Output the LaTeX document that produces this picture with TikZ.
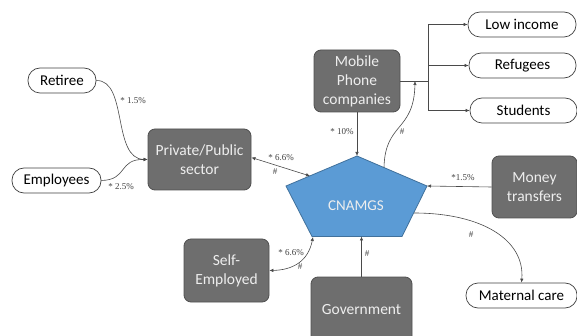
\documentclass[tikz,border=0pt]{standalone}
\usepackage{fontspec}
\setmainfont{Carlito}
\newfontfamily\labelfont{Liberation Serif}
\usetikzlibrary{arrows.meta}
\definecolor{boxfill}{HTML}{6E6E6E}
\definecolor{boxline}{HTML}{505050}
\definecolor{penta}{HTML}{5B9BD5}
\definecolor{pentaline}{HTML}{41719C}
\definecolor{boxtext}{HTML}{EEEEEE}
\definecolor{wire}{HTML}{4A4A4A}
\begin{document}
\begin{tikzpicture}[x=1pt,y=-1pt,
  darkbox/.style={draw=boxline, fill=boxfill, rounded corners=7pt, line width=0.8pt,
    text=boxtext, font=\fontsize{15.5}{19}\selectfont, align=center, inner sep=0pt},
  pill/.style={draw=black!75, fill=white, rounded corners=12pt, line width=0.7pt,
    font=\fontsize{15}{17}\selectfont, inner sep=0pt, minimum height=25pt},
  conn/.style={draw=wire, line width=0.6pt},
  tip/.style={-{Latex[length=4pt,width=3.5pt]}},
  both/.style={{Latex[length=4pt,width=3.5pt]}-{Latex[length=4pt,width=3.5pt]}},
  lbl/.style={font=\labelfont\fontsize{9}{10}\selectfont, text=black!75, inner sep=0pt}
]
\useasboundingbox (0,0) rectangle (577,336);
\clip (0,0) rectangle (577,336);

% contribution sources
\node[pill, minimum width=68pt] (retiree) at (62,80.5) {Retiree};
\node[pill, minimum width=89pt] (employees) at (56.5,180.5) {Employees};
\node[darkbox, minimum width=103pt, minimum height=61pt] (pps) at (199.5,159.5) {Private/Public\\sector};
\node[darkbox, minimum width=86pt, minimum height=62pt] (mobile) at (357,81) {Mobile\\Phone\\companies};
\node[darkbox, minimum width=85pt, minimum height=62pt] (money) at (534.5,187) {Money\\transfers};
\node[darkbox, minimum width=85pt, minimum height=63pt] (self) at (226.5,270.5) {Self-\\Employed};
\node[darkbox, minimum width=101pt, minimum height=66pt] (gov) at (361.5,310) {Government};

% beneficiaries
\node[pill, minimum width=108pt] (low) at (522,24.5) {Low income};
\node[pill, minimum width=107pt] (ref) at (522.5,65.5) {Refugees};
\node[pill, minimum width=107pt] (stud) at (523.5,110.5) {Students};
\node[pill, minimum width=111pt] (maternal) at (521.5,295.5) {Maternal care};

% central fund
\coordinate (pT) at (357,156);
\coordinate (pL) at (286,186);
\coordinate (pR) at (427,186);
\coordinate (pBL) at (312,236.5);
\coordinate (pBR) at (402,236.5);
\draw[draw=pentaline, fill=penta, line width=0.8pt] (pT) -- (pR) -- (pBR) -- (pBL) -- (pL) -- cycle;
\node[text=boxtext, font=\fontsize{15}{17}\selectfont] (cnamgs) at (356,206) {CNAMGS};

% attachment points on the pentagon
\coordinate (pUL) at (310,176);
\coordinate (pUR) at (384,167.5);
\coordinate (pRE) at (414,213);
\coordinate (pSelf) at (313,237);

% branch point of the mobile phone line
\coordinate (br) at (428,81);
\coordinate (mline) at (415,81);

% connectors
\draw[conn, tip] (retiree.east) .. controls (128,80) and (112,159) .. (pps.west);
\draw[conn, tip] (employees.east) .. controls (128,180) and (118,159) .. (pps.west);
\draw[conn, both] ([yshift=2pt]pps.east) -- (pUL);
\draw[conn, tip] (mobile.south) -- (pT);
\draw[conn] (mobile.east) -- (br);
\draw[conn] (br |- low.west) -- (br |- stud.west);
\draw[conn, tip] (br |- low.west) -- (low.west);
\draw[conn, tip] (br |- ref.west) -- (ref.west);
\draw[conn, tip] (br |- stud.west) -- (stud.west);
\draw[conn, tip] (pUR) .. controls (385,122) and (414,132) .. (mline);
\draw[conn, tip] (money.west) -- (pR);
\draw[conn, tip] (pRE) .. controls (482,213) and (525,240) .. (maternal.north);
\draw[conn, both] (pSelf) .. controls (308,262) and (292,270) .. (self.east);
\draw[conn, tip] (gov.north) -- (gov.north |- pBL);

% connector labels
\node[lbl] (l1) at (133,101) {* 1.5\%};
\node[lbl] (l2) at (121,187) {* 2.5\%};
\node[lbl] (l3) at (281,158) {* 6.6\%};
\node[lbl] (l4) at (275,172) {\#};
\node[lbl] (l5) at (342,132) {* 10\%};
\node[lbl] (l6) at (402,132) {\#};
\node[lbl] (l7) at (463,178) {*1.5\%};
\node[lbl] (l8) at (471,235) {\#};
\node[lbl] (l9) at (291,253) {* 6.6\%};
\node[lbl] (l10) at (300,267) {\#};
\node[lbl] (l11) at (367,254) {\#};
\end{tikzpicture}
\end{document}
